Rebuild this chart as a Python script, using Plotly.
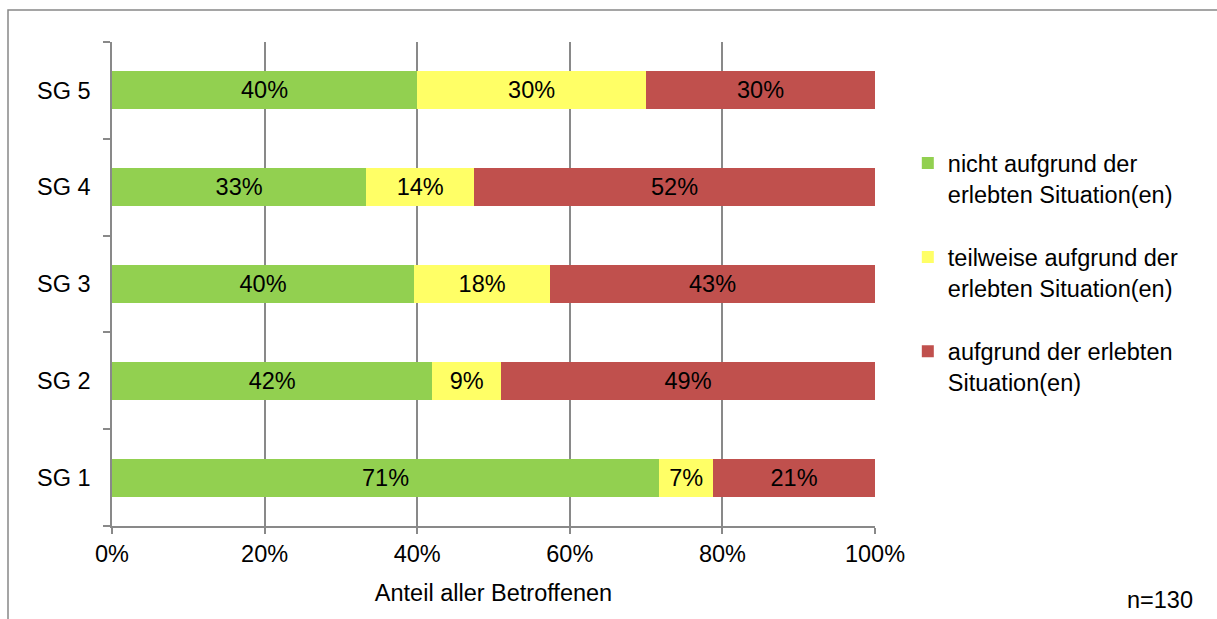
import plotly.graph_objects as go

# Subgroups (bottom to top) and shares per answer category, in percent
groups = ["SG 1", "SG 2", "SG 3", "SG 4", "SG 5"]
nicht_aufgrund = [71, 42, 40, 33, 40]
teilweise_aufgrund = [7, 9, 18, 14, 30]
aufgrund = [21, 49, 43, 52, 30]

series_names = [
    "nicht aufgrund der<br>erlebten Situation(en)",
    "teilweise aufgrund der<br>erlebten Situation(en)",
    "aufgrund der erlebten<br>Situation(en)",
]
series_values = [nicht_aufgrund, teilweise_aufgrund, aufgrund]
series_colors = ["#92D050", "#FFFF66", "#C0504D"]

x_ticks = [0, 20, 40, 60, 80, 100]
x_tick_labels = ["0%", "20%", "40%", "60%", "80%", "100%"]

FONT = "Liberation Sans, Arial, sans-serif"
FS = 23.5
GRID = "#898989"

fig = go.Figure()
for i, (name, vals, col) in enumerate(zip(series_names, series_values, series_colors)):
    fig.add_trace(go.Bar(
        y=groups,
        x=vals,
        name=name,
        orientation="h",
        marker=dict(color=col, line=dict(width=0)),
        text=[f"{v}%" for v in vals],
        textposition="inside",
        insidetextanchor="middle",
        textangle=0,
        constraintext="none",
        textfont=dict(family=FONT, size=FS, color="black"),
        legendgroup=f"g{i}",
        hoverinfo="skip",
    ))

fig.update_layout(
    width=1217,
    height=619,
    barmode="stack",
    barnorm="percent",
    bargap=0.607,
    plot_bgcolor="white",
    paper_bgcolor="white",
    margin=dict(l=112, r=342, t=42, b=93),
    font=dict(family=FONT, size=FS, color="black"),
    xaxis=dict(
        range=[0, 100],
        tickvals=x_ticks,
        ticktext=x_tick_labels,
        showgrid=True,
        gridcolor=GRID,
        gridwidth=1.5,
        showline=True,
        linecolor=GRID,
        linewidth=1.5,
        ticks="outside",
        ticklen=6,
        tickwidth=1.5,
        tickcolor=GRID,
        zeroline=False,
        title=dict(text="Anteil aller Betroffenen", standoff=19,
                   font=dict(family=FONT, size=FS)),
        tickfont=dict(family=FONT, size=FS),
        fixedrange=True,
    ),
    yaxis=dict(
        categoryorder="array",
        categoryarray=groups,
        showgrid=False,
        showline=True,
        linecolor=GRID,
        linewidth=1.5,
        ticks="outside",
        tickson="boundaries",
        ticklen=7,
        tickwidth=1.5,
        tickcolor=GRID,
        ticklabelstandoff=15,
        tickfont=dict(family=FONT, size=FS),
        fixedrange=True,
    ),
    legend=dict(
        x=1.043,
        y=0.795,
        xanchor="left",
        yanchor="top",
        traceorder="grouped",
        valign="top",
        tracegroupgap=30,
        font=dict(family=FONT, size=FS),
        bgcolor="rgba(0,0,0,0)",
    ),
    showlegend=True,
)

# Outer frame of the chart area (left and top edges visible)
fig.add_shape(
    type="rect", xref="paper", yref="paper",
    x0=-0.1363, x1=1.6, y0=1.066, y1=-0.5,
    line=dict(color="#888888", width=1.5),
    fillcolor="rgba(0,0,0,0)", layer="below",
)

fig.add_annotation(
    text="n=130", xref="paper", yref="paper",
    x=1.4194, y=-0.1529, xanchor="right", yanchor="middle",
    showarrow=False, font=dict(family=FONT, size=FS, color="black"),
)

fig.write_html("out.html")
